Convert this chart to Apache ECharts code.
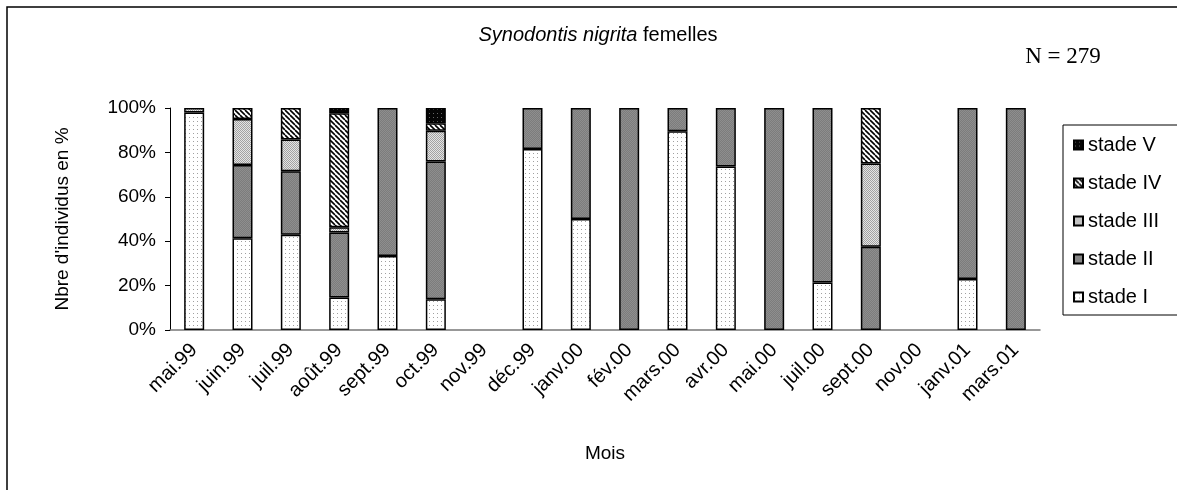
<!DOCTYPE html>
<html>
<head>
<meta charset="utf-8">
<script src="https://cdn.jsdelivr.net/npm/echarts@6/dist/echarts.min.js"></script>
<style>
  html, body { margin: 0; padding: 0; background: #fff; }
  #chart { width: 1177px; height: 490px; }
</style>
</head>
<body>
<div id="chart"></div>
<script>
// Months sampled
const months = ['mai.99', 'juin.99', 'juil.99', 'août.99', 'sept.99', 'oct.99', 'nov.99',
  'déc.99', 'janv.00', 'fév.00', 'mars.00', 'avr.00', 'mai.00', 'juil.00', 'sept.00',
  'nov.00', 'janv.01', 'mars.01'];

// Share of females at each maturity stage (%), per month
const stadeI   = [98, 41.3, 42.9, 14.6, 33.3, 13.8, 0, 81.5, 50, 0, 89.5, 73.7, 0, 21.4, 0, 0, 23, 0];
const stadeII  = [0, 33, 28.6, 29.3, 66.7, 62.1, 0, 18.5, 50, 100, 10.5, 26.3, 100, 78.6, 37.5, 0, 77, 100];
const stadeIII = [2, 20.7, 14.3, 2.4, 0, 13.8, 0, 0, 0, 0, 0, 0, 0, 0, 37.5, 0, 0, 0];
const stadeIV  = [0, 5, 14.2, 51.3, 0, 3.4, 0, 0, 0, 0, 0, 0, 0, 0, 25, 0, 0, 0];
const stadeV   = [0, 0, 0, 2.4, 0, 6.9, 0, 0, 0, 0, 0, 0, 0, 0, 0, 0, 0, 0];

const yTicks = [0, 20, 40, 60, 80, 100];

// Fill patterns for the stages
function tile(size, draw) {
  const c = document.createElement('canvas');
  c.width = size; c.height = size;
  draw(c.getContext('2d'), size);
  return { image: c, repeat: 'repeat' };
}
const fillI = tile(4, (g, s) => {
  g.fillStyle = '#fff'; g.fillRect(0, 0, s, s);
  g.fillStyle = '#a0a0a0'; g.fillRect(1, 1, 1, 1);
});
const fillII = tile(2, (g, s) => {
  g.fillStyle = '#7c7c7c'; g.fillRect(0, 0, s, s);
  g.fillStyle = '#8e8e8e'; g.fillRect(0, 0, 1, 1); g.fillRect(1, 1, 1, 1);
});
const fillIII = tile(2, (g, s) => {
  g.fillStyle = '#e4e4e4'; g.fillRect(0, 0, s, s);
  g.fillStyle = '#a2a2a2'; g.fillRect(0, 0, 1, 1); g.fillRect(1, 1, 1, 1);
});
const fillIV = tile(5, (g, s) => {
  g.fillStyle = '#fff'; g.fillRect(0, 0, s, s);
  g.strokeStyle = '#000'; g.lineWidth = 1.6;
  for (let k = -1; k <= 1; k++) {
    g.beginPath(); g.moveTo(k * s, 0); g.lineTo(k * s + s, s); g.stroke();
  }
});
const fillV = tile(4, (g, s) => {
  g.fillStyle = '#050505'; g.fillRect(0, 0, s, s);
  g.fillStyle = '#666'; g.fillRect(1, 1, 1, 1);
});

const stages = [
  { name: 'stade I', data: stadeI, fill: fillI },
  { name: 'stade II', data: stadeII, fill: fillII },
  { name: 'stade III', data: stadeIII, fill: fillIII },
  { name: 'stade IV', data: stadeIV, fill: fillIV },
  { name: 'stade V', data: stadeV, fill: fillV }
];

const font = 'Liberation Sans, Arial, sans-serif';
const fs = 19;

const chart = echarts.init(document.getElementById('chart'), null, { renderer: 'canvas' });
chart.setOption({
  animation: false,
  backgroundColor: '#fff',
  textStyle: { fontFamily: font },
  grid: { left: 170, right: 137, top: 108, bottom: 160 },
  legend: {
    orient: 'vertical',
    left: 1068, top: 130,
    itemWidth: 9, itemHeight: 9, itemGap: 18,
    icon: 'rect',
    data: ['stade V', 'stade IV', 'stade III', 'stade II', 'stade I'],
    textStyle: { fontFamily: font, fontSize: 20, color: '#000', padding: [0, 0, 0, 0] }
  },
  xAxis: {
    type: 'category',
    data: months,
    name: 'Mois', nameLocation: 'middle', nameGap: 114,
    nameTextStyle: { fontFamily: font, fontSize: fs, color: '#000' },
    axisLine: { lineStyle: { color: '#777', width: 1.5 } },
    axisTick: { lineStyle: { color: '#000' }, length: 5 },
    axisLabel: { rotate: 45, margin: 17, fontFamily: font, fontSize: 20, color: '#000' }
  },
  yAxis: {
    type: 'value',
    min: yTicks[0], max: yTicks[yTicks.length - 1], interval: yTicks[1] - yTicks[0],
    name: "Nbre d'individus en %", nameLocation: 'middle', nameGap: 98,
    nameTextStyle: { fontFamily: font, fontSize: fs, color: '#000' },
    axisLine: { show: true, lineStyle: { color: '#000', width: 1 } },
    axisTick: { show: true, lineStyle: { color: '#000' }, length: 5 },
    splitLine: { show: false },
    axisLabel: { formatter: '{value}%', margin: 14, fontFamily: font, fontSize: fs, color: '#000' }
  },
  series: stages.map(s => ({
    name: s.name,
    type: 'bar',
    stack: 'total',
    barWidth: 20,
    data: s.data.map(v => (v > 0 ? v : null)),
    itemStyle: { color: s.fill, borderColor: '#000', borderWidth: 1.5 }
  })),
  graphic: [
    { type: 'rect', silent: true, z: -1,
      shape: { x: 7, y: 7, width: 1200, height: 520 },
      style: { fill: 'none', stroke: '#000', lineWidth: 1.5 } },
    { type: 'rect', silent: true, z: -1,
      shape: { x: 1063, y: 125, width: 130, height: 190 },
      style: { fill: '#fff', stroke: '#000', lineWidth: 1 } },
    { type: 'text', x: 598, y: 35,
      style: {
        text: '{i|Synodontis nigrita} femelles',
        align: 'center', verticalAlign: 'middle',
        font: '20px ' + font, fill: '#000',
        rich: { i: { fontStyle: 'italic', fontSize: 20, fontFamily: font } }
      } },
    { type: 'text', x: 1063, y: 57,
      style: { text: 'N = 279', align: 'center', verticalAlign: 'middle',
        font: '23px Liberation Serif, Times New Roman, serif', fill: '#000' } }
  ]
});
</script>
</body>
</html>
